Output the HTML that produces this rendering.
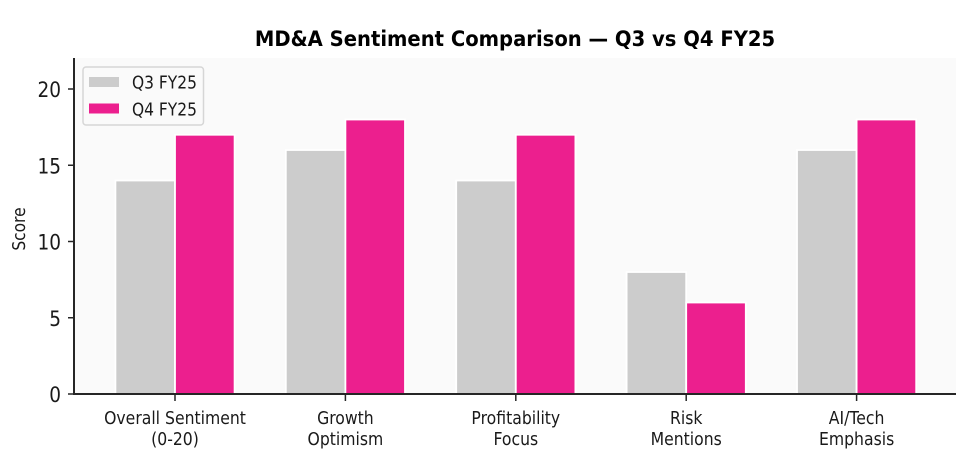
<!DOCTYPE html>
<html>
<head>
<meta charset="utf-8">
<style>
html,body{margin:0;padding:0;background:#fff;width:970px;height:454px;overflow:hidden}
svg{display:block}
text{font-family:"DejaVu Sans","Liberation Sans",sans-serif;fill:#1a1a1a}
</style>
</head>
<body>
<svg id="chart" width="970" height="454" viewBox="0 0 970 454" xmlns="http://www.w3.org/2000/svg">
<rect x="74" y="58" width="882" height="336" fill="#fafafa"/>
<g id="bars"></g>
<line x1="74" y1="58" x2="74" y2="395" stroke="#262626" stroke-width="2"/>
<line x1="73" y1="394" x2="956" y2="394" stroke="#262626" stroke-width="2"/>
<g id="axes"></g>
<text transform="translate(515,46) scale(0.933,1)" text-anchor="middle" font-size="21" font-weight="bold" style="fill:#000">MD&amp;A Sentiment Comparison — Q3 vs Q4 FY25</text>
<text transform="translate(25,229) rotate(-90) scale(0.86,1)" text-anchor="middle" font-size="18">Score</text>
<g>
<rect x="83" y="67" width="120.5" height="58" rx="3" fill="#fafafa" stroke="#d6d6d6" stroke-width="1.5"/>
<rect x="89" y="77" width="30" height="10" fill="#cccccc"/>
<text transform="translate(132,88.5) scale(0.86,1)" font-size="18">Q3 FY25</text>
<rect x="89" y="103.5" width="30" height="10" fill="#ec1f8e"/>
<text transform="translate(132,115.5) scale(0.86,1)" font-size="18">Q4 FY25</text>
</g>
</svg>
<script>
const categories = [["Overall Sentiment","(0-20)"],["Growth","Optimism"],["Profitability","Focus"],["Risk","Mentions"],["AI/Tech","Emphasis"]];
const q3Values = [14,16,14,8,16];
const q4Values = [17,18,17,6,18];
const yTicks = [0,5,10,15,20];

const svgNS = "http://www.w3.org/2000/svg";
const barsG = document.getElementById("bars");
const axesG = document.getElementById("axes");
const yScale = v => 394 - v * 15.25;
const xScale = i => 175 + i * 170.4;
const barW = 59.6;

function make(tag, attrs, parent){
  const el = document.createElementNS(svgNS, tag);
  for (const k in attrs) el.setAttribute(k, attrs[k]);
  parent.appendChild(el);
  return el;
}
function drawBar(i, v, offset, color, series){
  const y = yScale(v);
  const el = make("rect", {x: xScale(i) + offset, y: y, width: barW, height: yScale(0) - y, fill: color, stroke: "#ffffff", "stroke-width": 1.8}, barsG);
  
  
}
categories.forEach((c, i) => {
  drawBar(i, q3Values[i], -barW, "#cccccc", "q3");
  drawBar(i, q4Values[i], 0, "#ec1f8e", "q4");
  const tick = make("line", {x1: xScale(i), x2: xScale(i), y1: 394, y2: 401, stroke: "#262626", "stroke-width": 1.5}, axesG);
  
  
  c.forEach((line, j) => {
    const t = make("text", {transform: "translate(" + xScale(i) + "," + (424 + j * 21) + ") scale(0.87,1)", "text-anchor": "middle", "font-size": 18}, axesG);
    t.textContent = line;
    
    
  });
});
yTicks.forEach(v => {
  const tick = make("line", {x1: 68, x2: 74, y1: yScale(v), y2: yScale(v), stroke: "#262626", "stroke-width": 1.5}, axesG);
  
  
  const t = make("text", {transform: "translate(61," + (yScale(v) + 8) + ") scale(0.88,1)", "text-anchor": "end", "font-size": 21}, axesG);
  t.textContent = v;
  
  
});
</script>
</body>
</html>
